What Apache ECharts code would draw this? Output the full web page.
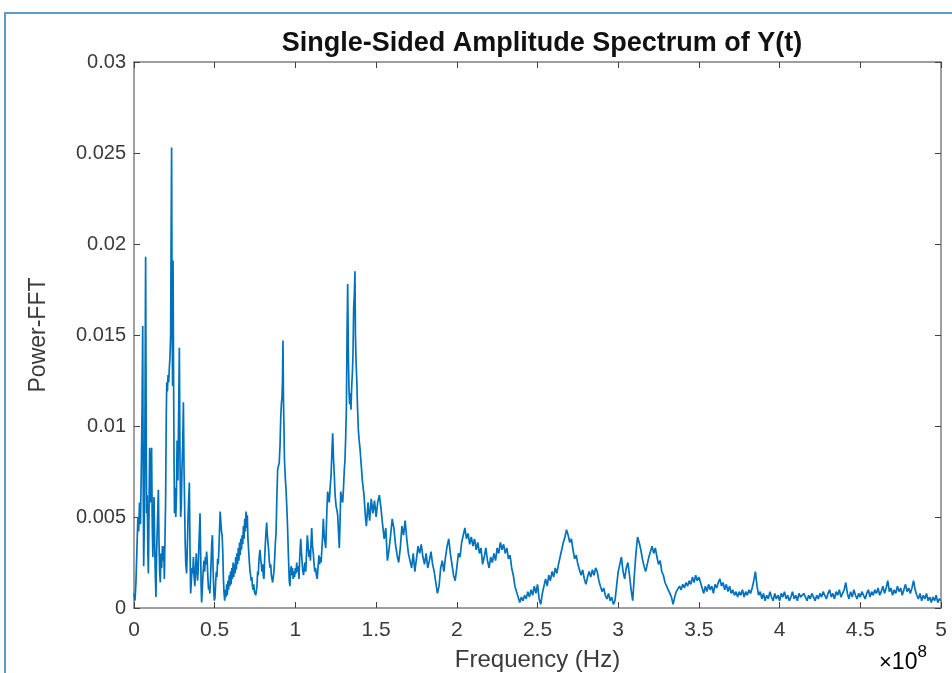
<!DOCTYPE html>
<html>
<head>
<meta charset="utf-8">
<script src="https://cdn.jsdelivr.net/npm/echarts@6/dist/echarts.min.js"></script>
<style>
html,body{margin:0;padding:0;background:#fff;}
#chart{width:952px;height:673px;}
</style>
</head>
<body>
<div id="chart"></div>
<script>
// Frequency in units of 1e8 Hz, amplitude (Power-FFT)
const bandLow = [
[0.000,0.0008],[0.006,0.0004],[0.012,0.0014],[0.018,0.0032],[0.024,0.0050],[0.029,0.0042],[0.034,0.0058],[0.040,0.0046],[0.045,0.0075],[0.050,0.0110],[0.054,0.0155],[0.057,0.0070],[0.060,0.0023],[0.064,0.0046],[0.068,0.0105],[0.072,0.0193],[0.075,0.0115],[0.078,0.0052],[0.082,0.0062],[0.086,0.0030],[0.089,0.0019],[0.093,0.0052],[0.097,0.0088],[0.101,0.0058],[0.105,0.0076],[0.109,0.0088],[0.113,0.0046],[0.117,0.0028],[0.120,0.0050],[0.124,0.0061],[0.128,0.0036],[0.132,0.0018],[0.136,0.0006],[0.140,0.0030],[0.145,0.0046],[0.151,0.0065],[0.155,0.0036],[0.159,0.0020],[0.163,0.0014],[0.167,0.0030],[0.171,0.0022],[0.176,0.0034],[0.180,0.0026],[0.184,0.0034],[0.188,0.0016],[0.192,0.0015],[0.196,0.0060],[0.200,0.0106],[0.203,0.0124],[0.207,0.0119],[0.211,0.0128],[0.215,0.0124],[0.219,0.0132],[0.223,0.0138],[0.227,0.0150],[0.230,0.0205],[0.233,0.0253],[0.236,0.0160],[0.239,0.0122],[0.242,0.0191],[0.245,0.0130],[0.248,0.0082],[0.251,0.0052],[0.255,0.0066],[0.259,0.0050],[0.263,0.0062],[0.267,0.0092],[0.272,0.0070],[0.276,0.0102],[0.281,0.0143],[0.285,0.0082],[0.289,0.0050],[0.293,0.0056],[0.297,0.0076],[0.302,0.0090],[0.306,0.0113],[0.310,0.0076],[0.313,0.0060],[0.317,0.0036],[0.321,0.0024],[0.326,0.0019],[0.330,0.0032],[0.335,0.0050],[0.339,0.0060],[0.343,0.0069],[0.347,0.0032],[0.351,0.0008],[0.356,0.0016],[0.360,0.0022],[0.364,0.0019],[0.368,0.0028],[0.372,0.0018],[0.377,0.0012],[0.382,0.0023],[0.386,0.0030],[0.390,0.0020],[0.394,0.0015],[0.398,0.0022],[0.402,0.0034],[0.406,0.0044],[0.409,0.0052],[0.413,0.0030],[0.416,0.0012],[0.419,0.0003],[0.423,0.0010],[0.427,0.0018],[0.431,0.0023],[0.434,0.0026],[0.438,0.0020],[0.442,0.0028],[0.446,0.0024],[0.450,0.0031],[0.454,0.0025],[0.458,0.0016],[0.462,0.0010],[0.466,0.0012],[0.470,0.0008],[0.474,0.0016],[0.478,0.0026],[0.482,0.0036],[0.486,0.0040],[0.490,0.0022],[0.494,0.0010],[0.498,0.0004],[0.502,0.0006],[0.506,0.0014],[0.510,0.0020],[0.514,0.0017],[0.518,0.0027],[0.522,0.0024],[0.526,0.0032],[0.530,0.0043],[0.534,0.0053],[0.538,0.0047],[0.542,0.0042],[0.546,0.0040],[0.550,0.0031],[0.554,0.0016],[0.558,0.0008],[0.562,0.0004],[0.566,0.0010],[0.570,0.0006],[0.574,0.0013],[0.578,0.0007],[0.582,0.0015],[0.586,0.0010],[0.590,0.0018],[0.594,0.0012],[0.598,0.0020],[0.602,0.0013],[0.606,0.0022],[0.610,0.0016],[0.614,0.0025],[0.618,0.0017],[0.622,0.0024],[0.626,0.0019],[0.630,0.0028],[0.634,0.0021],[0.638,0.0030],[0.642,0.0024],[0.646,0.0033],[0.650,0.0026],[0.654,0.0036],[0.658,0.0029],[0.662,0.0038],[0.666,0.0032],[0.670,0.0040],[0.674,0.0035],[0.678,0.0045],[0.682,0.0038],[0.686,0.0049],[0.690,0.0042],[0.694,0.0053],[0.698,0.0044],[0.702,0.0051],[0.706,0.0038],[0.710,0.0032]
];
const bandPeaks = [
[0.714,0.0026],[0.718,0.0021],[0.722,0.0018],[0.726,0.0015],[0.730,0.0017],[0.734,0.0012],[0.738,0.0010],[0.742,0.0013],[0.746,0.0009],[0.750,0.0010],[0.754,0.0007],[0.758,0.0006],[0.762,0.0012],[0.766,0.0020],[0.770,0.0018],[0.774,0.0026],[0.778,0.0030],[0.781,0.0032],[0.785,0.0027],[0.789,0.0024],[0.793,0.0020],[0.797,0.0024],[0.801,0.0018],[0.805,0.0016],[0.809,0.0026],[0.813,0.0034],[0.818,0.0042],[0.822,0.0047],[0.826,0.0040],[0.830,0.0036],[0.834,0.0032],[0.838,0.0026],[0.843,0.0022],[0.847,0.0024],[0.851,0.0018],[0.855,0.0016],[0.859,0.0014],[0.863,0.0015],[0.867,0.0020],[0.872,0.0028],[0.876,0.0036],[0.880,0.0041],[0.885,0.0060],[0.890,0.0076],[0.895,0.0078],[0.900,0.0080],[0.905,0.0090],[0.909,0.0104],[0.913,0.0112],[0.917,0.0116],[0.920,0.0125],[0.923,0.0147],[0.926,0.0115],[0.929,0.0100],[0.932,0.0082],[0.937,0.0072],[0.942,0.0065],[0.947,0.0055],[0.952,0.0043],[0.957,0.0028],[0.962,0.0015],[0.966,0.0012],[0.970,0.0020],[0.974,0.0023],[0.978,0.0018],[0.982,0.0022],[0.986,0.0016],[0.991,0.0020],[0.995,0.0017],[1.000,0.0022],[1.004,0.0019],[1.008,0.0025],[1.012,0.0020],[1.017,0.0023],[1.022,0.0016],[1.027,0.0028],[1.033,0.0038],[1.038,0.0030],[1.045,0.0021],[1.050,0.0018],[1.055,0.0022],[1.059,0.0025],[1.064,0.0020],[1.069,0.0030],[1.074,0.0040],[1.079,0.0034],[1.084,0.0028],[1.088,0.0032],[1.093,0.0026],[1.097,0.0036],[1.101,0.0044],[1.106,0.0034],[1.111,0.0030],[1.115,0.0025],[1.120,0.0020],[1.125,0.0022],[1.130,0.0018],[1.135,0.0016],[1.140,0.0022],[1.146,0.0029],[1.150,0.0024],[1.155,0.0028],[1.159,0.0025],[1.164,0.0032],[1.169,0.0040],[1.173,0.0049],[1.178,0.0040],[1.183,0.0036],[1.188,0.0033],[1.192,0.0045],[1.196,0.0056],[1.200,0.0064],[1.205,0.0060],[1.210,0.0058],[1.215,0.0066],[1.221,0.0073],[1.226,0.0085],[1.231,0.0096],[1.236,0.0082],[1.241,0.0073],[1.246,0.0062],[1.252,0.0056],[1.257,0.0054],[1.262,0.0051],[1.267,0.0042],[1.272,0.0033],[1.277,0.0048],[1.281,0.0064],[1.287,0.0060],[1.293,0.0058],[1.298,0.0066],[1.303,0.0076],[1.307,0.0081],[1.312,0.0095],[1.316,0.0110],[1.320,0.0150],[1.324,0.0178],[1.328,0.0140],[1.332,0.0120],[1.336,0.0112],[1.340,0.0118],[1.344,0.0109],[1.349,0.0122],[1.353,0.0129],[1.357,0.0140],[1.361,0.0165],[1.365,0.0172],[1.369,0.0185],[1.372,0.0150],[1.376,0.0135],[1.380,0.0126],[1.385,0.0110],[1.390,0.0098],[1.395,0.0092],[1.400,0.0088],[1.405,0.0082],[1.410,0.0076],[1.415,0.0070],[1.420,0.0066],[1.425,0.0062],[1.430,0.0055],[1.435,0.0049]
];
const bandMid = [
[1.44,0.0045],[1.45,0.0058],[1.46,0.0048],[1.47,0.0060],[1.48,0.0052],[1.49,0.0059],[1.50,0.0050],[1.51,0.0058],[1.52,0.0062],[1.53,0.0055],[1.54,0.0046],[1.55,0.0038],[1.56,0.0044],[1.57,0.0026],[1.58,0.0032],[1.59,0.0040],[1.60,0.0049],[1.61,0.0044],[1.62,0.0035],[1.63,0.0029],[1.64,0.0025],[1.65,0.0033],[1.66,0.0045],[1.67,0.0040],[1.68,0.0048],[1.69,0.0038],[1.70,0.0030],[1.71,0.0026],[1.72,0.0022],[1.73,0.0030],[1.74,0.0020],[1.75,0.0027],[1.76,0.0034],[1.77,0.0030],[1.78,0.0035],[1.79,0.0028],[1.80,0.0024],[1.81,0.0030],[1.82,0.0022],[1.83,0.0026],[1.84,0.0031],[1.85,0.0024],[1.86,0.0020],[1.87,0.0014],[1.88,0.0008],[1.89,0.0012],[1.90,0.0022],[1.91,0.0026],[1.92,0.0020],[1.93,0.0028],[1.94,0.0034],[1.95,0.0038],[1.96,0.0030],[1.97,0.0024],[1.98,0.0018],[1.99,0.0015],[2.00,0.0022],[2.01,0.0030],[2.02,0.0028],[2.03,0.0036],[2.04,0.0040],[2.05,0.0044],[2.06,0.0038],[2.07,0.0041],[2.08,0.0035],[2.09,0.0039],[2.10,0.0034],[2.11,0.0038],[2.12,0.0032],[2.13,0.0036],[2.14,0.0030],[2.15,0.0033],[2.16,0.0024],[2.17,0.0028],[2.18,0.0033],[2.19,0.0026],[2.20,0.0022],[2.21,0.0028],[2.22,0.0025],[2.23,0.0030],[2.24,0.0026],[2.25,0.0033],[2.26,0.0030],[2.27,0.0036],[2.28,0.0032],[2.29,0.0035],[2.30,0.0030],[2.31,0.0033],[2.32,0.0027],[2.33,0.0029],[2.34,0.0022],[2.35,0.0018],[2.36,0.0012],[2.37,0.0009],[2.38,0.0006],[2.39,0.0003],[2.40,0.0006],[2.41,0.0004],[2.42,0.0007],[2.43,0.0005],[2.44,0.0009],[2.45,0.0006],[2.46,0.0010],[2.47,0.0007],[2.48,0.0012],[2.49,0.0008],[2.50,0.0013],[2.51,0.0005],[2.52,0.0002],[2.53,0.0008],[2.54,0.0012],[2.55,0.0016],[2.56,0.0012],[2.57,0.0018],[2.58,0.0015],[2.59,0.0020],[2.60,0.0017],[2.61,0.0022],[2.62,0.0019],[2.63,0.0024],[2.64,0.0028],[2.65,0.0032],[2.66,0.0036],[2.67,0.0039],[2.68,0.0043],[2.69,0.0040],[2.70,0.0036],[2.71,0.0038],[2.72,0.0032],[2.73,0.0027],[2.74,0.0029],[2.75,0.0024],[2.76,0.0021],[2.77,0.0018],[2.78,0.0021],[2.79,0.0016],[2.80,0.0013],[2.81,0.0017],[2.82,0.0020],[2.83,0.0017],[2.84,0.0021],[2.85,0.0018],[2.86,0.0022],[2.87,0.0020],[2.88,0.0015],[2.89,0.0012],[2.90,0.0009],[2.91,0.0011],[2.92,0.0007],[2.93,0.0005],[2.94,0.0008],[2.95,0.0004],[2.96,0.0006],[2.97,0.0002],[2.98,0.0004],[2.99,0.0012],[3.00,0.0020],[3.01,0.0024],[3.02,0.0028],[3.03,0.0020],[3.04,0.0016],[3.05,0.0022],[3.06,0.0025],[3.07,0.0018],[3.08,0.0010],[3.09,0.0004],[3.10,0.0018],[3.11,0.0030],[3.12,0.0039],[3.13,0.0036],[3.14,0.0032],[3.15,0.0027],[3.16,0.0023],[3.17,0.0020],[3.18,0.0024],[3.19,0.0028],[3.20,0.0031],[3.21,0.0034],[3.22,0.0030],[3.23,0.0033],[3.24,0.0028],[3.25,0.0024],[3.26,0.0026],[3.27,0.0020],[3.28,0.0018],[3.29,0.0014],[3.30,0.0012],[3.31,0.0010],[3.32,0.0008],[3.33,0.0006],[3.34,0.0002],[3.35,0.0006],[3.36,0.0009],[3.37,0.0008],[3.38,0.0012],[3.39,0.0010],[3.40,0.0013],[3.41,0.0011],[3.42,0.0014],[3.43,0.0012],[3.44,0.0015],[3.45,0.0013],[3.46,0.0017],[3.47,0.0014],[3.48,0.0018],[3.49,0.0015],[3.50,0.0017],[3.51,0.0014],[3.52,0.0011],[3.53,0.0008],[3.54,0.0012],[3.55,0.0009],[3.56,0.0013],[3.57,0.0010],[3.58,0.0012],[3.59,0.0008],[3.60,0.0013],[3.61,0.0011],[3.62,0.0014],[3.63,0.0016],[3.64,0.0012],[3.65,0.0014],[3.66,0.0010],[3.67,0.0013],[3.68,0.0009],[3.69,0.0012],[3.70,0.0008],[3.71,0.0010],[3.72,0.0007],[3.73,0.0009],[3.74,0.0006],[3.75,0.0009],[3.76,0.0007],[3.77,0.0010],[3.78,0.0006],[3.79,0.0009],[3.80,0.0007],[3.81,0.0010],[3.82,0.0008],[3.83,0.0011],[3.84,0.0015],[3.85,0.0020],[3.86,0.0012],[3.87,0.0007],[3.88,0.0009]
];
const bandHigh = [
[3.89,0.0005],[3.90,0.0008],[3.91,0.0004],[3.92,0.0007],[3.93,0.0005],[3.94,0.0009],[3.95,0.0006],[3.96,0.0004],[3.97,0.0008],[3.98,0.0005],[3.99,0.0007],[4.00,0.0004],[4.01,0.0008],[4.02,0.0006],[4.03,0.0009],[4.04,0.0005],[4.05,0.0007],[4.06,0.0004],[4.07,0.0006],[4.08,0.0009],[4.09,0.0005],[4.10,0.0007],[4.11,0.0004],[4.12,0.0008],[4.13,0.0006],[4.14,0.0005],[4.15,0.0008],[4.16,0.0006],[4.17,0.0004],[4.18,0.0007],[4.19,0.0005],[4.20,0.0008],[4.21,0.0006],[4.22,0.0004],[4.23,0.0007],[4.24,0.0005],[4.25,0.0008],[4.26,0.0006],[4.27,0.0009],[4.28,0.0007],[4.29,0.0005],[4.30,0.0008],[4.31,0.0010],[4.32,0.0006],[4.33,0.0008],[4.34,0.0005],[4.35,0.0009],[4.36,0.0007],[4.37,0.0010],[4.38,0.0006],[4.39,0.0008],[4.40,0.0010],[4.41,0.0014],[4.42,0.0008],[4.43,0.0005],[4.44,0.0009],[4.45,0.0006],[4.46,0.0010],[4.47,0.0007],[4.48,0.0005],[4.49,0.0008],[4.50,0.0006],[4.51,0.0009],[4.52,0.0007],[4.53,0.0005],[4.54,0.0008],[4.55,0.0010],[4.56,0.0006],[4.57,0.0009],[4.58,0.0007],[4.59,0.0010],[4.60,0.0008],[4.61,0.0011],[4.62,0.0007],[4.63,0.0009],[4.64,0.0012],[4.65,0.0008],[4.66,0.0011],[4.67,0.0015],[4.68,0.0009],[4.69,0.0011],[4.70,0.0007],[4.71,0.0010],[4.72,0.0008],[4.73,0.0012],[4.74,0.0009],[4.75,0.0011],[4.76,0.0007],[4.77,0.0010],[4.78,0.0013],[4.79,0.0009],[4.80,0.0011],[4.81,0.0008],[4.82,0.0011],[4.83,0.0015],[4.84,0.0010],[4.85,0.0007],[4.86,0.0005],[4.87,0.0008],[4.88,0.0004],[4.89,0.0007],[4.90,0.0005],[4.91,0.0008],[4.92,0.0004],[4.93,0.0006],[4.94,0.0003],[4.95,0.0006],[4.96,0.0004],[4.97,0.0007],[4.98,0.0003],[4.99,0.0005],[5.00,0.0004]
];

const titleText = 'Single-Sided Amplitude Spectrum of Y(t)';
const xName = 'Frequency (Hz)';
const yName = 'Power-FFT';
const xRange = [0, 5, 0.5];
const yRange = [0, 0.03, 0.005];

const spectrum = bandLow.concat(bandPeaks, bandMid, bandHigh);

const FONT = '"Liberation Sans", Arial, Helvetica, sans-serif';
const axisColor = '#7f7f7f';
const labelColor = '#3a3a3a';

const chart = echarts.init(document.getElementById('chart'), null, {renderer: 'canvas'});

const baseAxis = {
  axisLine: {show: true, onZero: false, lineStyle: {color: axisColor, width: 1.5}},
  axisTick: {show: true, inside: true, length: 6, lineStyle: {color: '#404040', width: 1}},
  splitLine: {show: false}
};

chart.setOption({
  animation: false,
  backgroundColor: '#ffffff',
  title: {
    text: titleText,
    left: 537,
    top: 25,
    textAlign: 'center',
    textStyle: {fontFamily: FONT, fontWeight: 'bold', fontSize: 27, color: '#111111'}
  },
  grid: {left: 134, right: 11, top: 62, bottom: 65, containLabel: false, outerBoundsMode: 'none'},
  xAxis: [
    Object.assign({}, baseAxis, {
      type: 'value', position: 'bottom',
      min: xRange[0], max: xRange[1], interval: xRange[2],
      name: xName, nameLocation: 'middle', nameGap: 40,
      nameTextStyle: {fontFamily: FONT, fontSize: 24, color: labelColor},
      axisLabel: {fontFamily: FONT, fontSize: 21, color: labelColor, margin: 12}
    }),
    Object.assign({}, baseAxis, {
      type: 'value', position: 'top',
      min: xRange[0], max: xRange[1], interval: xRange[2],
      axisLabel: {show: false}
    })
  ],
  yAxis: [
    Object.assign({}, baseAxis, {
      type: 'value', position: 'left',
      min: yRange[0], max: yRange[1], interval: yRange[2],
      name: yName, nameLocation: 'middle', nameGap: 84, nameRotate: 90,
      nameTextStyle: {fontFamily: FONT, fontSize: 23, color: labelColor},
      axisLabel: {fontFamily: FONT, fontSize: 20, color: labelColor, margin: 8}
    }),
    Object.assign({}, baseAxis, {
      type: 'value', position: 'right',
      min: yRange[0], max: yRange[1], interval: yRange[2],
      axisLabel: {show: false}
    })
  ],
  graphic: [
    {
      type: 'rect', silent: true, z: 100,
      shape: {x: 5, y: 13, width: 1000, height: 720},
      style: {fill: 'none', stroke: '#5B9BD5', lineWidth: 2}
    },
    {
      type: 'text', left: 879, top: 644, silent: true,
      style: {
        text: '{a|×}{b|10}{c|8}',
        rich: {
          a: {fontFamily: FONT, fontSize: 22, color: labelColor, verticalAlign: 'bottom', lineHeight: 30},
          b: {fontFamily: FONT, fontSize: 23, color: labelColor, verticalAlign: 'bottom', lineHeight: 30},
          c: {fontFamily: FONT, fontSize: 17, color: labelColor, verticalAlign: 'top', lineHeight: 30}
        }
      }
    }
  ],
  series: [{
    type: 'line',
    xAxisIndex: 0, yAxisIndex: 0,
    data: spectrum,
    showSymbol: false,
    symbol: 'none',
    lineStyle: {color: '#0072BD', width: 1.7},
    clip: true
  }]
});
</script>
</body>
</html>
